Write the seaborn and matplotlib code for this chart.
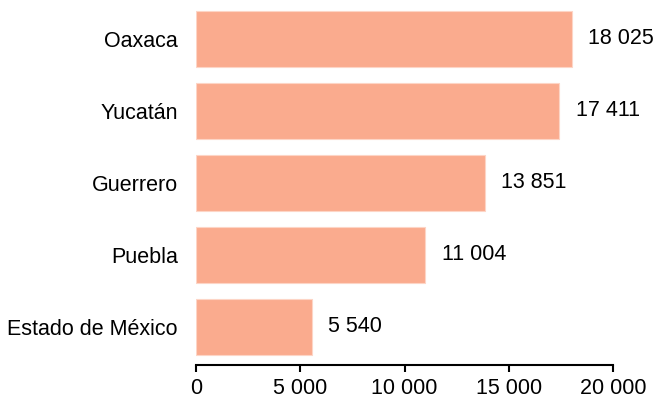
import matplotlib
matplotlib.use("Agg")
import matplotlib.pyplot as plt
import seaborn as sns
import pandas as pd

states = ["Oaxaca", "Yucatán", "Guerrero", "Puebla", "Estado de México"]
values = [18025, 17411, 13851, 11004, 5540]
xticks = [0, 5000, 10000, 15000, 20000]
xtick_labels = ["0", "5 000", "10 000", "15 000", "20 000"]

sns.set_theme(style="white")
plt.rcParams["font.family"] = ["Liberation Sans", "DejaVu Sans"]
plt.rcParams["text.color"] = "black"
plt.rcParams["xtick.color"] = "black"
plt.rcParams["ytick.color"] = "black"

df = pd.DataFrame({"state": states, "value": values})

fig = plt.figure(figsize=(6.55, 3.98), dpi=100)
ax = fig.add_axes([196 / 655, 1 - 365 / 398, 417 / 655, 365 / 398])

sns.barplot(data=df, y="state", x="value", orient="h", color="#FAAB8E",
            saturation=1, width=0.77, edgecolor="#FDD5C6", linewidth=0.8, ax=ax)

ax.set_xlim(0, 20000)
ax.set_ylim(4.53, -0.54)
ax.set_xticks(xticks)
ax.set_xticklabels(xtick_labels, fontsize=15.5, color="black")
ax.tick_params(axis="y", labelsize=15.5, length=0, pad=13, labelcolor="black")
ax.tick_params(axis="x", bottom=True, length=5, width=1.5, color="black", pad=4,
               labelcolor="black")
ax.set_xlabel("")
ax.set_ylabel("")
for s in ["top", "right", "left"]:
    ax.spines[s].set_visible(False)
ax.spines["bottom"].set_color("black")
ax.spines["bottom"].set_linewidth(1.5)

for i, v in enumerate(values):
    lbl = f"{v:,}".replace(",", " ")
    ax.annotate(lbl, xy=(v, i), xytext=(12, 0), textcoords="offset points",
                va="center", ha="left", fontsize=15.5, color="black")

fig.savefig("out.png", dpi=100)
